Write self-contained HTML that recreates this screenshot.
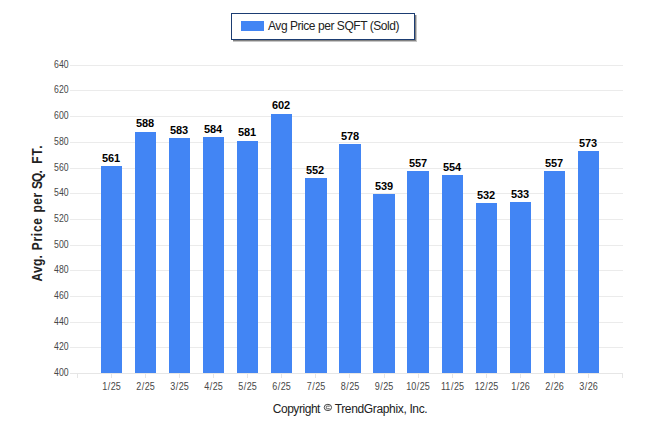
<!DOCTYPE html>
<html><head><meta charset="utf-8"><title>Avg Price per SQFT (Sold)</title>
<style>
html,body{margin:0;padding:0;background:#fff;}
body{width:646px;height:434px;overflow:hidden;font-family:"Liberation Sans",sans-serif;}
svg{display:block;}
text{font-family:"Liberation Sans",sans-serif;}
.yl{font-size:11px;fill:#484848;text-anchor:end;}
.xl{font-size:11px;fill:#484848;text-anchor:middle;}
.dl{font-size:11px;font-weight:bold;fill:#000;letter-spacing:-0.12px;}
.lg{font-size:12px;fill:#222;letter-spacing:-0.45px;}
</style></head><body>
<svg width="646" height="434" viewBox="0 0 646 434">
<rect x="0" y="0" width="646" height="434" fill="#fff"/>

<rect x="70" y="65" width="553" height="1" fill="#ebebeb"/>
<text class="yl" transform="translate(68.6,68) scale(0.79,1)">640</text>
<rect x="70" y="90" width="553" height="1" fill="#ebebeb"/>
<text class="yl" transform="translate(68.6,93) scale(0.79,1)">620</text>
<rect x="70" y="116" width="553" height="1" fill="#ebebeb"/>
<text class="yl" transform="translate(68.6,119) scale(0.79,1)">600</text>
<rect x="70" y="142" width="553" height="1" fill="#ebebeb"/>
<text class="yl" transform="translate(68.6,145) scale(0.79,1)">580</text>
<rect x="70" y="168" width="553" height="1" fill="#ebebeb"/>
<text class="yl" transform="translate(68.6,171) scale(0.79,1)">560</text>
<rect x="70" y="193" width="553" height="1" fill="#ebebeb"/>
<text class="yl" transform="translate(68.6,196) scale(0.79,1)">540</text>
<rect x="70" y="219" width="553" height="1" fill="#ebebeb"/>
<text class="yl" transform="translate(68.6,222) scale(0.79,1)">520</text>
<rect x="70" y="245" width="553" height="1" fill="#ebebeb"/>
<text class="yl" transform="translate(68.6,248) scale(0.79,1)">500</text>
<rect x="70" y="270" width="553" height="1" fill="#ebebeb"/>
<text class="yl" transform="translate(68.6,273) scale(0.79,1)">480</text>
<rect x="70" y="296" width="553" height="1" fill="#ebebeb"/>
<text class="yl" transform="translate(68.6,299) scale(0.79,1)">460</text>
<rect x="70" y="322" width="553" height="1" fill="#ebebeb"/>
<text class="yl" transform="translate(68.6,325) scale(0.79,1)">440</text>
<rect x="70" y="347" width="553" height="1" fill="#ebebeb"/>
<text class="yl" transform="translate(68.6,350) scale(0.79,1)">420</text>
<rect x="70" y="373" width="553" height="1" fill="#e6e6e6"/>
<text class="yl" transform="translate(68.6,376) scale(0.79,1)">400</text>
<rect x="77" y="373" width="1" height="5" fill="#e6e6e6"/>
<rect x="622" y="373" width="1" height="5" fill="#e6e6e6"/>
<rect x="111" y="373" width="1" height="5" fill="#e6e6e6"/>
<rect x="101" y="166" width="21" height="207" fill="#4285f4"/>
<text class="dl" x="102.0" y="162">561</text>
<text class="xl" transform="translate(111.5,390) scale(0.82,1)">1<tspan dx="0.7">/</tspan><tspan dx="0.7">25</tspan></text>
<rect x="145" y="373" width="1" height="5" fill="#e6e6e6"/>
<rect x="135" y="132" width="21" height="241" fill="#4285f4"/>
<text class="dl" x="136.0" y="127">588</text>
<text class="xl" transform="translate(145.5,390) scale(0.82,1)">2<tspan dx="0.7">/</tspan><tspan dx="0.7">25</tspan></text>
<rect x="179" y="373" width="1" height="5" fill="#e6e6e6"/>
<rect x="169" y="138" width="21" height="235" fill="#4285f4"/>
<text class="dl" x="170.0" y="134">583</text>
<text class="xl" transform="translate(179.5,390) scale(0.82,1)">3<tspan dx="0.7">/</tspan><tspan dx="0.7">25</tspan></text>
<rect x="213" y="373" width="1" height="5" fill="#e6e6e6"/>
<rect x="203" y="137" width="21" height="236" fill="#4285f4"/>
<text class="dl" x="204.0" y="133">584</text>
<text class="xl" transform="translate(213.5,390) scale(0.82,1)">4<tspan dx="0.7">/</tspan><tspan dx="0.7">25</tspan></text>
<rect x="247" y="373" width="1" height="5" fill="#e6e6e6"/>
<rect x="237" y="141" width="21" height="232" fill="#4285f4"/>
<text class="dl" x="238.0" y="136">581</text>
<text class="xl" transform="translate(247.5,390) scale(0.82,1)">5<tspan dx="0.7">/</tspan><tspan dx="0.7">25</tspan></text>
<rect x="281" y="373" width="1" height="5" fill="#e6e6e6"/>
<rect x="271" y="114" width="21" height="259" fill="#4285f4"/>
<text class="dl" x="272.0" y="109">602</text>
<text class="xl" transform="translate(281.5,390) scale(0.82,1)">6<tspan dx="0.7">/</tspan><tspan dx="0.7">25</tspan></text>
<rect x="315" y="373" width="1" height="5" fill="#e6e6e6"/>
<rect x="305" y="178" width="22" height="195" fill="#4285f4"/>
<text class="dl" x="306.0" y="174">552</text>
<text class="xl" transform="translate(316.0,390) scale(0.82,1)">7<tspan dx="0.7">/</tspan><tspan dx="0.7">25</tspan></text>
<rect x="349" y="373" width="1" height="5" fill="#e6e6e6"/>
<rect x="339" y="144" width="22" height="229" fill="#4285f4"/>
<text class="dl" x="341.1" y="140">578</text>
<text class="xl" transform="translate(350.0,390) scale(0.82,1)">8<tspan dx="0.7">/</tspan><tspan dx="0.7">25</tspan></text>
<rect x="384" y="373" width="1" height="5" fill="#e6e6e6"/>
<rect x="373" y="194" width="22" height="179" fill="#4285f4"/>
<text class="dl" x="375.1" y="190">539</text>
<text class="xl" transform="translate(384.0,390) scale(0.82,1)">9<tspan dx="0.7">/</tspan><tspan dx="0.7">25</tspan></text>
<rect x="418" y="373" width="1" height="5" fill="#e6e6e6"/>
<rect x="407" y="171" width="22" height="202" fill="#4285f4"/>
<text class="dl" x="409.1" y="167">557</text>
<text class="xl" transform="translate(418.0,390) scale(0.82,1)">10<tspan dx="0.7">/</tspan><tspan dx="0.7">25</tspan></text>
<rect x="452" y="373" width="1" height="5" fill="#e6e6e6"/>
<rect x="442" y="175" width="21" height="198" fill="#4285f4"/>
<text class="dl" x="443.1" y="171">554</text>
<text class="xl" transform="translate(452.5,390) scale(0.82,1)">11<tspan dx="0.7">/</tspan><tspan dx="0.7">25</tspan></text>
<rect x="486" y="373" width="1" height="5" fill="#e6e6e6"/>
<rect x="476" y="203" width="21" height="170" fill="#4285f4"/>
<text class="dl" x="477.1" y="199">532</text>
<text class="xl" transform="translate(486.5,390) scale(0.82,1)">12<tspan dx="0.7">/</tspan><tspan dx="0.7">25</tspan></text>
<rect x="520" y="373" width="1" height="5" fill="#e6e6e6"/>
<rect x="510" y="202" width="21" height="171" fill="#4285f4"/>
<text class="dl" x="511.1" y="198">533</text>
<text class="xl" transform="translate(520.5,390) scale(0.82,1)">1<tspan dx="0.7">/</tspan><tspan dx="0.7">26</tspan></text>
<rect x="554" y="373" width="1" height="5" fill="#e6e6e6"/>
<rect x="544" y="171" width="21" height="202" fill="#4285f4"/>
<text class="dl" x="545.1" y="167">557</text>
<text class="xl" transform="translate(554.5,390) scale(0.82,1)">2<tspan dx="0.7">/</tspan><tspan dx="0.7">26</tspan></text>
<rect x="588" y="373" width="1" height="5" fill="#e6e6e6"/>
<rect x="578" y="151" width="21" height="222" fill="#4285f4"/>
<text class="dl" x="579.1" y="147">573</text>
<text class="xl" transform="translate(588.5,390) scale(0.82,1)">3<tspan dx="0.7">/</tspan><tspan dx="0.7">26</tspan></text>
<text transform="translate(41.7,281.4) rotate(-90) scale(0.86,1)" font-size="14" font-weight="bold" fill="#222"><tspan x="0.00" textLength="30.47" lengthAdjust="spacing">Avg.</tspan><tspan x="36.28" textLength="37.44" lengthAdjust="spacing">Price</tspan><tspan x="80.12" textLength="22.79" lengthAdjust="spacing">per</tspan><tspan x="107.33" textLength="22.09" lengthAdjust="spacing">SQ.</tspan><tspan x="136.74" textLength="21.28" lengthAdjust="spacing">FT.</tspan></text>
<rect x="233" y="15" width="184" height="27" fill="#c6c6c6"/>
<rect x="233" y="15" width="183" height="26" fill="#808080"/>
<rect x="231.5" y="13.5" width="183" height="26" fill="#fff" stroke="#1b3c72" stroke-width="1"/>
<rect x="241" y="21" width="23" height="10" fill="#4285f4"/>
<text class="lg" x="268" y="30">Avg Price per SQFT (Sold)</text>
<text class="lg" x="272.7" y="413" fill="#333">Copyright</text>
<ellipse cx="327.9" cy="407.45" rx="3.65" ry="3.15" fill="none" stroke="#3a3a3a" stroke-width="0.95"/>
<path d="M329.7 406.15 H327.4 Q326.25 406.15 326.25 407.45 Q326.25 408.75 327.4 408.75 H329.7" fill="none" stroke="#3a3a3a" stroke-width="0.85"/>
<text class="lg" x="334.7" y="413" fill="#333" style="letter-spacing:-0.35px">TrendGraphix, Inc.</text>
</svg></body></html>
